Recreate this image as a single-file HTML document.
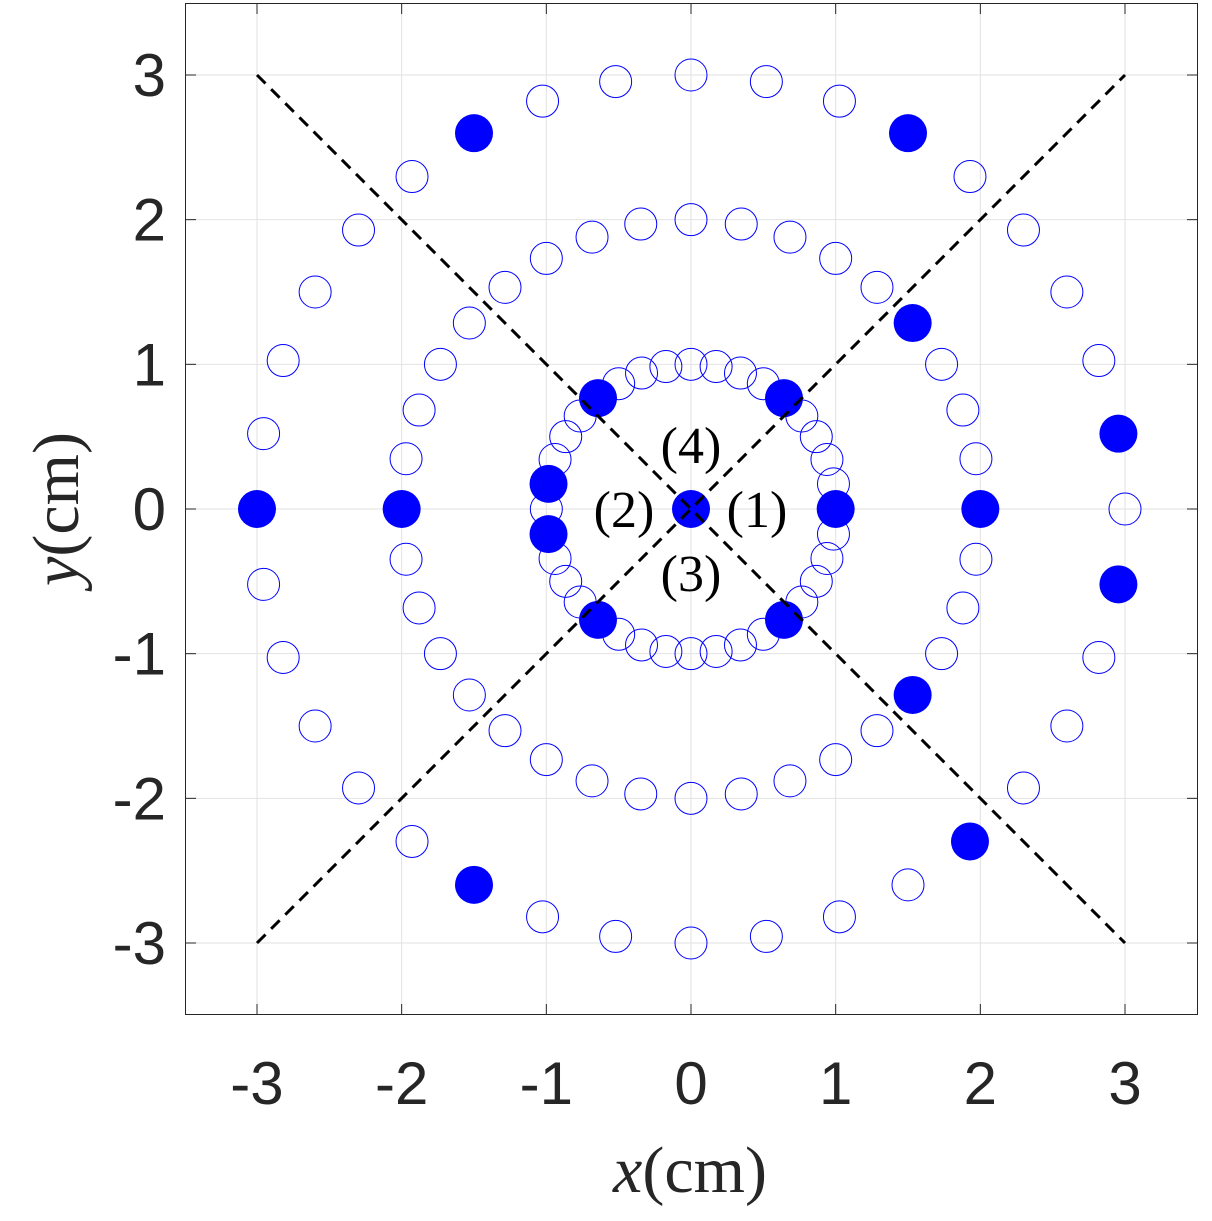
<!DOCTYPE html>
<html><head><meta charset="utf-8"><style>html,body{margin:0;padding:0;background:#fff}</style></head>
<body>
<svg id="s" width="1212" height="1216" xmlns="http://www.w3.org/2000/svg" font-family="Liberation Sans, sans-serif">
<rect x="0" y="0" width="1212" height="1216" fill="#fff"/>
<g id="grid" stroke="#e2e2e2" stroke-width="1"></g>
<g id="circ"></g>
<line x1="257" y1="75" x2="1125" y2="943" stroke="#000" stroke-width="3" stroke-dasharray="12,8"/>
<line x1="257" y1="943" x2="1125" y2="75" stroke="#000" stroke-width="3" stroke-dasharray="12,8"/>
<g font-family="Liberation Serif, serif" font-size="52" text-anchor="middle" fill="#000">
<text x="691" y="463">(4)</text>
<text x="691" y="591">(3)</text>
<text x="624" y="527">(2)</text>
<text x="757" y="527">(1)</text>
</g>
<rect x="185.5" y="3.5" width="1012" height="1011" fill="none" stroke="#262626" stroke-width="1"/>
<g id="ticks" stroke="#262626" stroke-width="1"></g>
<g id="lab" font-size="60" fill="#262626"></g>
<text x="690" y="1192" font-family="Liberation Serif, serif" font-size="66" text-anchor="middle" fill="#262626"><tspan font-style="italic">x</tspan>(cm)</text>
<text transform="translate(78,509) rotate(-90)" font-family="Liberation Serif, serif" font-size="66" text-anchor="middle" fill="#262626"><tspan font-style="italic">y</tspan>(cm)</text>
</svg>
<script>
var NS="http://www.w3.org/2000/svg",S=144.67,cx=691,cy=509;
function el(p,t,a,txt){var e=document.createElementNS(NS,t);for(var k in a)e.setAttribute(k,a[k]);if(txt!=null)e.textContent=txt;p.appendChild(e);return e;}
var g=document.getElementById('grid'),tk=document.getElementById('ticks'),lb=document.getElementById('lab');
for(var i=-3;i<=3;i++){var X=cx+i*S,Y=cy-i*S;
el(g,'line',{x1:X,y1:4,x2:X,y2:1014});el(g,'line',{x1:186,y1:Y,x2:1197,y2:Y});
el(tk,'line',{x1:X,y1:1014,x2:X,y2:1004});el(tk,'line',{x1:X,y1:4,x2:X,y2:14});
el(tk,'line',{x1:186,y1:Y,x2:196,y2:Y});el(tk,'line',{x1:1197,y1:Y,x2:1187,y2:Y});
el(lb,'text',{x:X,y:1104,'text-anchor':'middle'},String(i));
el(lb,'text',{x:166,y:Y+21,'text-anchor':'end'},String(i));}
var c=document.getElementById('circ');
var filled={1:[0,50,130,170,190,230,310],2:[0,180,40,320],3:[180,120,60,10,350,310,240]};
for(var r=1;r<=3;r++)for(var a=0;a<360;a+=10){var t=a*Math.PI/180,X=cx+r*S*Math.cos(t),Y=cy-r*S*Math.sin(t);
if(filled[r].indexOf(a)>=0)el(c,'circle',{cx:X,cy:Y,r:19,fill:'#0000ff'});
else el(c,'circle',{cx:X,cy:Y,r:16,fill:'none',stroke:'#0000ff','stroke-width':1});}
el(c,'circle',{cx:cx,cy:cy,r:19,fill:'#0000ff'});
</script>
</body></html>
